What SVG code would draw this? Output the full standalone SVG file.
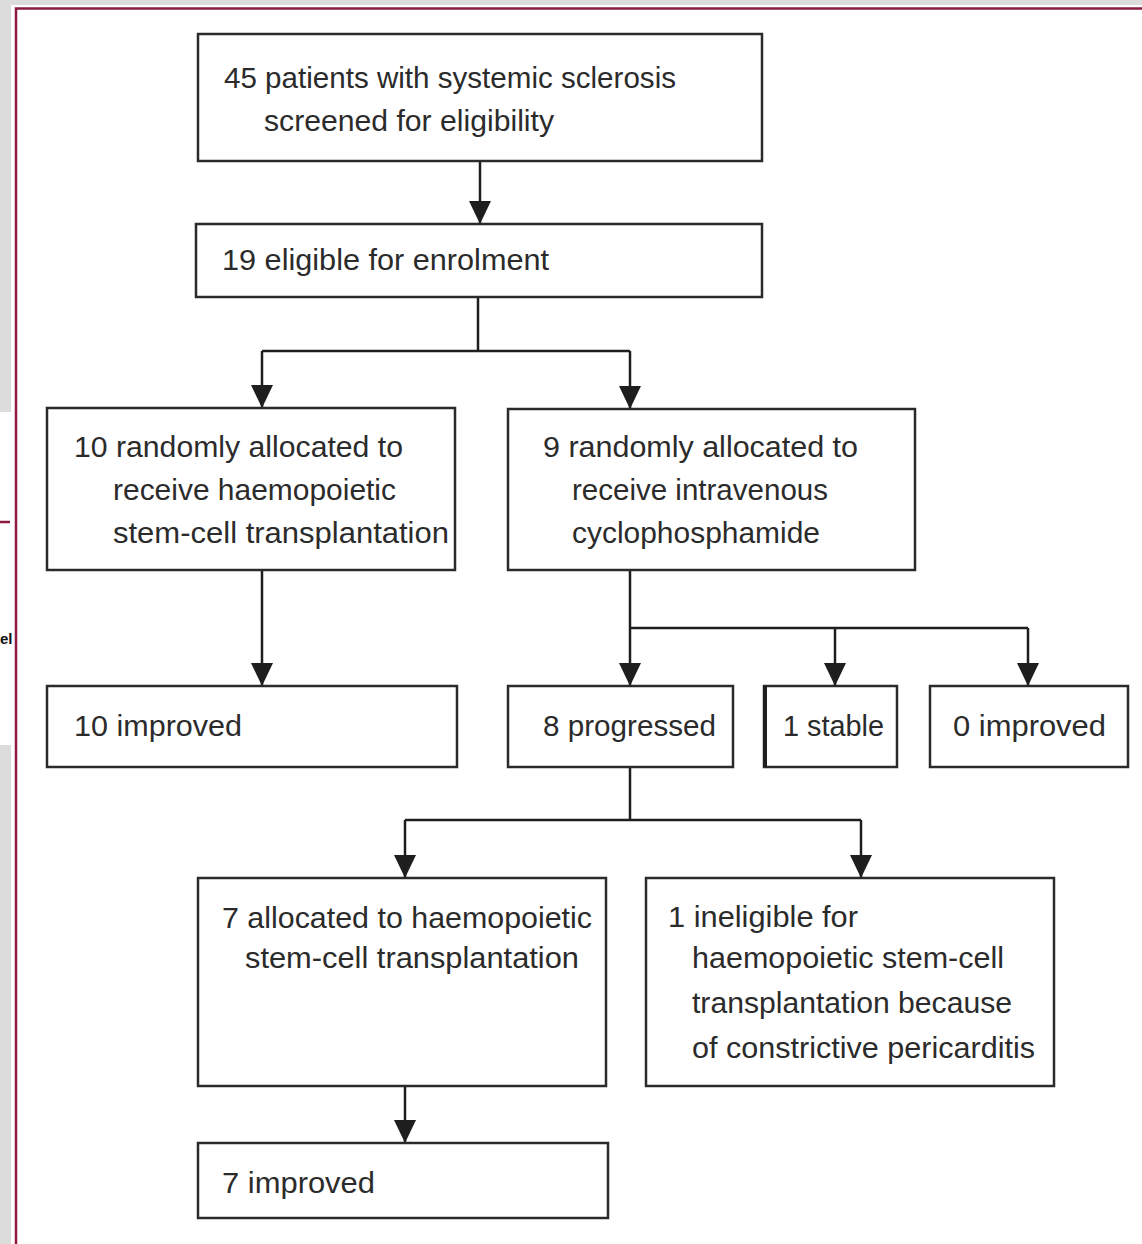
<svg xmlns="http://www.w3.org/2000/svg" width="1142" height="1244" viewBox="0 0 1142 1244">
<defs>
<style>
.box{fill:#fff;stroke:#2a2a2a;stroke-width:2.5}
.t{font-family:"Liberation Sans",Arial,sans-serif;font-size:29px;fill:#2b2b2b}
.c{fill:none;stroke:#1e1e1e;stroke-width:2.5}
</style>
<marker id="ah2" markerUnits="userSpaceOnUse" markerWidth="24" markerHeight="22" viewBox="0 0 24 22" refX="23" refY="11" orient="auto">
<path d="M0,0 L23,11 L0,22 Z" fill="#1e1e1e"/>
</marker>
</defs>
<rect x="0" y="0" width="1142" height="1244" fill="#fff"/>
<g id="page">
<rect x="0" y="0" width="1142" height="5" fill="#dcdcdc"/>
<rect x="0" y="0" width="11" height="412" fill="#dcdcdc"/>
<rect x="0" y="745" width="11" height="499" fill="#dcdcdc"/>
<line x1="0" y1="522" x2="10" y2="522" stroke="#8c1a42" stroke-width="2.5"/>
<text x="0" y="644" font-family="Liberation Sans,Arial,sans-serif" font-size="15" font-weight="bold" fill="#111">el</text>
<path d="M16,1244 V8.5 H1142" fill="none" stroke="#8c1a42" stroke-width="2.5"/>
</g>
<g id="connectors">
<line class="c" x1="480" y1="161" x2="480" y2="224" marker-end="url(#ah2)"/>
<polyline class="c" points="478,297 478,351"/>
<polyline class="c" points="262,351 630,351"/>
<line class="c" x1="262" y1="351" x2="262" y2="408" marker-end="url(#ah2)"/>
<line class="c" x1="630" y1="351" x2="630" y2="409" marker-end="url(#ah2)"/>
<line class="c" x1="262" y1="570" x2="262" y2="686" marker-end="url(#ah2)"/>
<line class="c" x1="630" y1="570" x2="630" y2="686" marker-end="url(#ah2)"/>
<polyline class="c" points="630,628 1028,628"/>
<line class="c" x1="835" y1="628" x2="835" y2="686" stroke-width="4" marker-end="url(#ah2)"/>
<line class="c" x1="1028" y1="628" x2="1028" y2="686" marker-end="url(#ah2)"/>
<polyline class="c" points="630,767 630,820"/>
<polyline class="c" points="405,820 861,820"/>
<line class="c" x1="405" y1="820" x2="405" y2="878" marker-end="url(#ah2)"/>
<line class="c" x1="861" y1="820" x2="861" y2="878" marker-end="url(#ah2)"/>
<line class="c" x1="405" y1="1086" x2="405" y2="1143" marker-end="url(#ah2)"/>
</g>
<g id="n1"><rect class="box" x="198" y="34" width="564" height="127"/>
<text class="t" x="224" y="88" textLength="452" lengthAdjust="spacingAndGlyphs">45 patients with systemic sclerosis</text>
<text class="t" x="264" y="131" textLength="290" lengthAdjust="spacingAndGlyphs">screened for eligibility</text></g>
<g id="n2"><rect class="box" x="196" y="224" width="566" height="73"/>
<text class="t" x="222" y="270" textLength="327" lengthAdjust="spacingAndGlyphs">19 eligible for enrolment</text></g>
<g id="n3"><rect class="box" x="47" y="408" width="408" height="162"/>
<text class="t" x="74" y="457" textLength="329" lengthAdjust="spacingAndGlyphs">10 randomly allocated to</text>
<text class="t" x="113" y="500" textLength="283" lengthAdjust="spacingAndGlyphs">receive haemopoietic</text>
<text class="t" x="113" y="543" textLength="336" lengthAdjust="spacingAndGlyphs">stem-cell transplantation</text></g>
<g id="n4"><rect class="box" x="508" y="409" width="407" height="161"/>
<text class="t" x="543" y="457" textLength="315" lengthAdjust="spacingAndGlyphs">9 randomly allocated to</text>
<text class="t" x="572" y="500" textLength="256" lengthAdjust="spacingAndGlyphs">receive intravenous</text>
<text class="t" x="572" y="543" textLength="248" lengthAdjust="spacingAndGlyphs">cyclophosphamide</text></g>
<g id="n5"><rect class="box" x="47" y="686" width="410" height="81"/>
<text class="t" x="74" y="736" textLength="168" lengthAdjust="spacingAndGlyphs">10 improved</text></g>
<g id="n6"><rect class="box" x="508" y="686" width="225" height="81"/>
<text class="t" x="543" y="736" textLength="173" lengthAdjust="spacingAndGlyphs">8 progressed</text></g>
<g id="n7"><rect class="box" x="764" y="686" width="133" height="81"/>
<line x1="765" y1="686" x2="765" y2="767" stroke="#1e1e1e" stroke-width="4"/>
<text class="t" x="783" y="736" textLength="101" lengthAdjust="spacingAndGlyphs">1 stable</text></g>
<g id="n8"><rect class="box" x="930" y="686" width="198" height="81"/>
<text class="t" x="953" y="736" textLength="153" lengthAdjust="spacingAndGlyphs">0 improved</text></g>
<g id="n9"><rect class="box" x="198" y="878" width="408" height="208"/>
<text class="t" x="222" y="928" textLength="370" lengthAdjust="spacingAndGlyphs">7 allocated to haemopoietic</text>
<text class="t" x="245" y="968" textLength="334" lengthAdjust="spacingAndGlyphs">stem-cell transplantation</text></g>
<g id="n10"><rect class="box" x="646" y="878" width="408" height="208"/>
<text class="t" x="668" y="927" textLength="190" lengthAdjust="spacingAndGlyphs">1 ineligible for</text>
<text class="t" x="692" y="968" textLength="312" lengthAdjust="spacingAndGlyphs">haemopoietic stem-cell</text>
<text class="t" x="692" y="1013" textLength="320" lengthAdjust="spacingAndGlyphs">transplantation because</text>
<text class="t" x="692" y="1058" textLength="343" lengthAdjust="spacingAndGlyphs">of constrictive pericarditis</text></g>
<g id="n11"><rect class="box" x="198" y="1143" width="410" height="75"/>
<text class="t" x="222" y="1193" textLength="153" lengthAdjust="spacingAndGlyphs">7 improved</text></g>
</svg>
